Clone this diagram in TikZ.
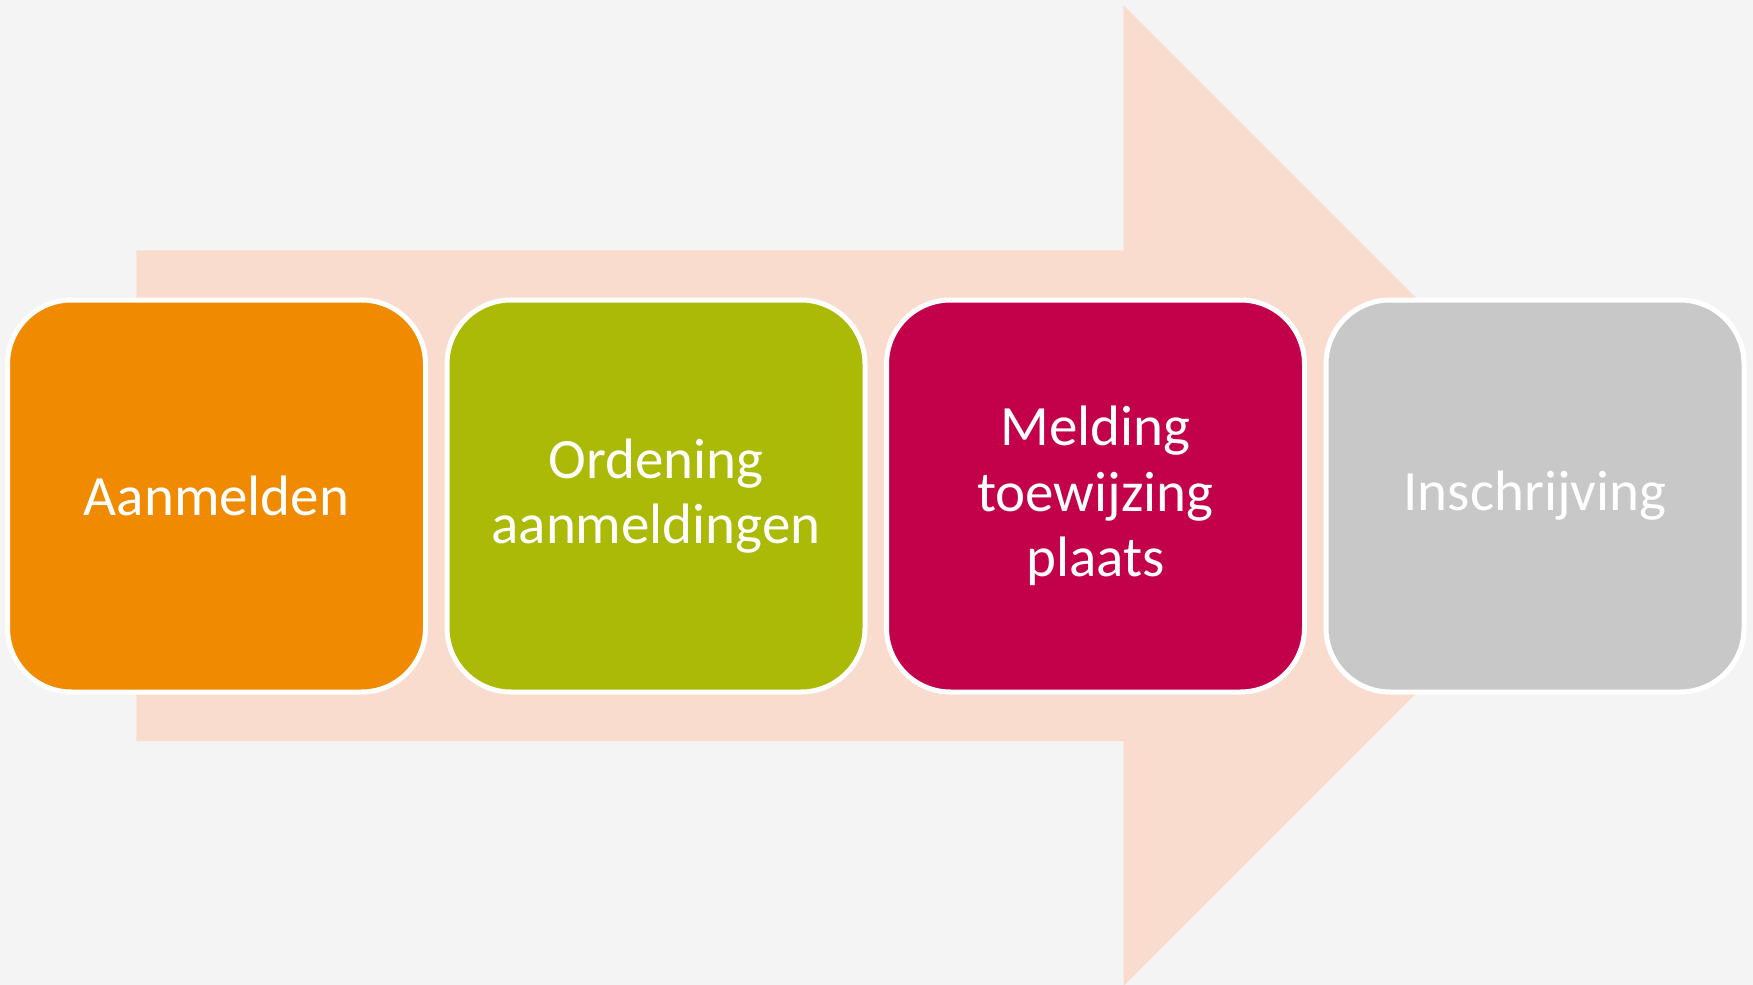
\documentclass[tikz,border=0pt]{standalone}
\usepackage{fontspec}
\setmainfont{Carlito}
\definecolor{bgc}{HTML}{F4F4F4}
\definecolor{arrowc}{HTML}{F9DCCE}
\definecolor{c1}{HTML}{F08A00}
\definecolor{c2}{HTML}{ABBA06}
\definecolor{c3}{HTML}{C3004A}
\definecolor{c4}{HTML}{C8C8C8}
\tikzset{
  stagebox/.style={draw=white, line width=2.5pt, rounded corners=32pt,
    minimum width=209pt, minimum height=196pt, inner sep=0pt,
    text=white, align=center, font=\fontsize{28.5}{32.7}\selectfont}
}
\begin{document}
\begin{tikzpicture}[x=0.5pt,y=-0.5pt]
\fill[bgc] (0,0) rectangle (1753,985);
\useasboundingbox (0,0) rectangle (1753,985);
\fill[arrowc] (136.4,250.4) -- (1123.6,250.4) -- (1123.6,5.6) -- (1613.8,495.8)
  -- (1123.6,986) -- (1123.6,741.2) -- (136.4,741.2) -- cycle;
\node[stagebox, fill=c1] (s1) at (216.5,496) {Aanmelden};
\node[stagebox, fill=c2] (s2) at (656,496) {Ordening\\aanmeldingen};
\node[stagebox, fill=c3] (s3) at (1095.5,496) {Melding\\toewijzing\\plaats};
\node[stagebox, fill=c4] (s4) at (1535,496) {Inschrijving};
\end{tikzpicture}
\end{document}
